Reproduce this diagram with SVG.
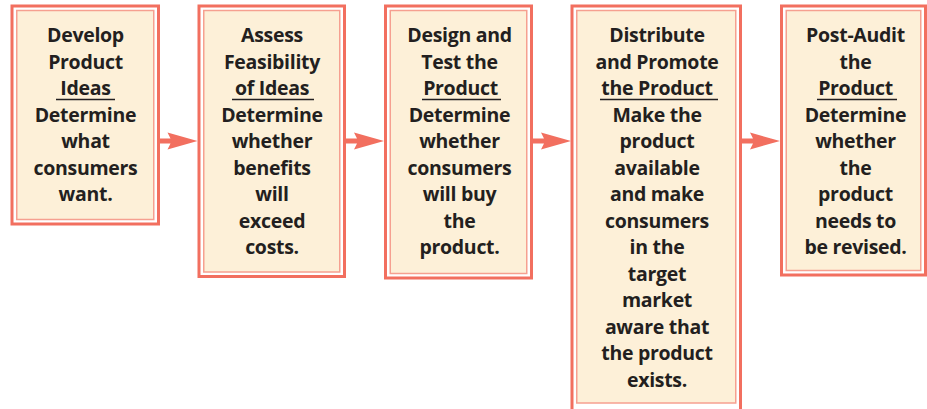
<svg xmlns="http://www.w3.org/2000/svg" xmlns:xlink="http://www.w3.org/1999/xlink" width="927" height="409" viewBox="0 0 927 409">
<style>
.outer{fill:#ffffff;stroke:#f26f5f;stroke-width:3}
.inner{fill:#fdf0d8;stroke:#f6a090;stroke-width:1.5}
.t{font-family:"Open Sans","Noto Sans","DejaVu Sans",sans-serif;font-weight:700;font-size:19.5px;letter-spacing:-0.3px;fill:#231f20;text-anchor:middle}
.ul{stroke:#231f20;stroke-width:1.5}
.arrow{fill:#f26f5f}
</style>
<defs>
<path id="arr" d="M0,-2.6 H11 L8,-8.5 L38,0 L8,8.5 L11,2.6 H0 Z"/>
</defs>
<rect width="927" height="409" fill="#ffffff"/>
<g id="connectors" class="arrow">
<use xlink:href="#arr" transform="translate(159.5,141)"/>
<use xlink:href="#arr" transform="translate(346,141)"/>
<use xlink:href="#arr" transform="translate(533,141)"/>
<use xlink:href="#arr" transform="translate(742,141)"/>
</g>
<g id="node1">
<rect class="outer" x="12" y="6" width="146.5" height="218"/>
<rect class="inner" x="16.75" y="10.5" width="137" height="209"/>
<text class="t"><tspan x="85.5" y="42">Develop</tspan><tspan x="85.5" y="68.5">Product</tspan><tspan x="85.5" y="95">Ideas</tspan><tspan x="85.5" y="121.5">Determine</tspan><tspan x="85.5" y="148">what</tspan><tspan x="85.5" y="174.5">consumers</tspan><tspan x="85.5" y="201">want.</tspan></text>
<line class="ul" x1="56" y1="99.5" x2="115" y2="99.5"/>
</g>
<g id="node2">
<rect class="outer" x="199" y="6" width="145.5" height="270.5"/>
<rect class="inner" x="203.75" y="10.5" width="136" height="261.5"/>
<text class="t"><tspan x="272" y="42">Assess</tspan><tspan x="272" y="68.5">Feasibility</tspan><tspan x="272" y="95">of Ideas</tspan><tspan x="272" y="121.5">Determine</tspan><tspan x="272" y="148">whether</tspan><tspan x="272" y="174.5">benefits</tspan><tspan x="272" y="201">will</tspan><tspan x="272" y="227.5">exceed</tspan><tspan x="272" y="254">costs.</tspan></text>
<line class="ul" x1="232" y1="99.5" x2="314" y2="99.5"/>
</g>
<g id="node3">
<rect class="outer" x="385.5" y="6" width="146" height="272"/>
<rect class="inner" x="390.25" y="10.5" width="136.5" height="263"/>
<text class="t"><tspan x="459.5" y="42">Design and</tspan><tspan x="459.5" y="68.5">Test the</tspan><tspan x="460.5" y="95">Product</tspan><tspan x="459.5" y="121.5">Determine</tspan><tspan x="459.5" y="148">whether</tspan><tspan x="459.5" y="174.5">consumers</tspan><tspan x="459.5" y="201">will buy</tspan><tspan x="459.5" y="227.5">the</tspan><tspan x="459.5" y="254">product.</tspan></text>
<line class="ul" x1="422" y1="99.5" x2="501" y2="99.5"/>
</g>
<g id="node4">
<rect class="outer" x="572" y="6" width="168.5" height="410"/>
<rect class="inner" x="576.75" y="10.5" width="159" height="392.5"/>
<text class="t"><tspan x="657" y="42">Distribute</tspan><tspan x="657" y="68.5">and Promote</tspan><tspan x="657" y="95">the Product</tspan><tspan x="657" y="121.5">Make the</tspan><tspan x="657" y="148">product</tspan><tspan x="657" y="174.5">available</tspan><tspan x="657" y="201">and make</tspan><tspan x="657" y="227.5">consumers</tspan><tspan x="657" y="254">in the</tspan><tspan x="657" y="280.5">target</tspan><tspan x="657" y="307">market</tspan><tspan x="657" y="333.5">aware that</tspan><tspan x="657" y="360">the product</tspan><tspan x="657" y="386.5">exists.</tspan></text>
<line class="ul" x1="600" y1="99.5" x2="718" y2="99.5"/>
</g>
<g id="node5">
<rect class="outer" x="781.5" y="6" width="144" height="269"/>
<rect class="inner" x="786.25" y="10.5" width="134.5" height="260"/>
<text class="t"><tspan x="855.5" y="42">Post-Audit</tspan><tspan x="855.5" y="68.5">the</tspan><tspan x="855.5" y="95">Product</tspan><tspan x="855.5" y="121.5">Determine</tspan><tspan x="855.5" y="148">whether</tspan><tspan x="855.5" y="174.5">the</tspan><tspan x="855.5" y="201">product</tspan><tspan x="855.5" y="227.5">needs to</tspan><tspan x="855.5" y="254">be revised.</tspan></text>
<line class="ul" x1="817" y1="99.5" x2="897" y2="99.5"/>
</g>
</svg>
